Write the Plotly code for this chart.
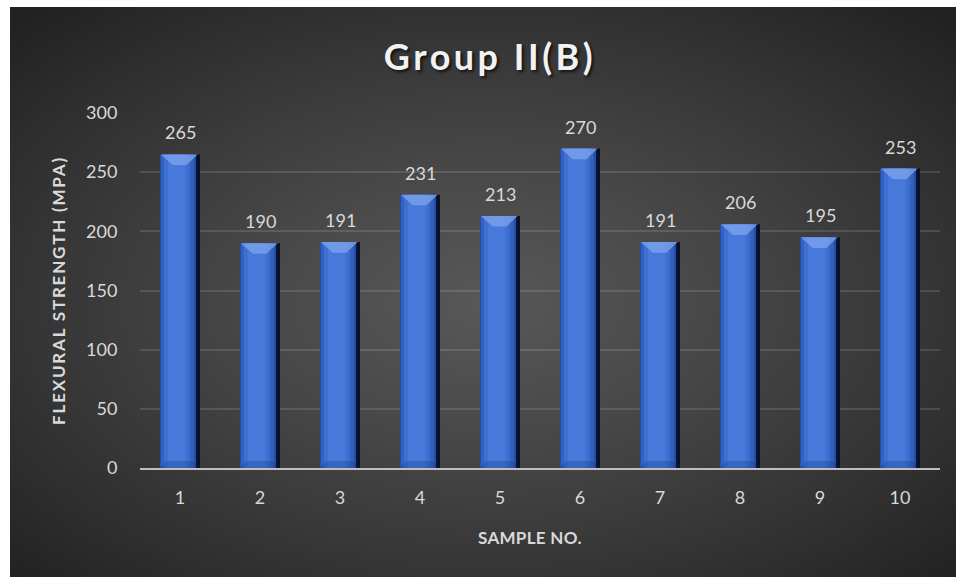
import base64
import struct
import zlib

import numpy as np
import plotly.graph_objects as go

# ---- data ----
samples = [1, 2, 3, 4, 5, 6, 7, 8, 9, 10]
strength = [265, 190, 191, 231, 213, 270, 191, 206, 195, 253]
y_ticks = [0, 50, 100, 150, 200, 250, 300]

W, H = 956, 577


def png_uri(rgb):
    """Encode an (h, w, 3) uint8 array as a PNG data URI."""
    h, w, _ = rgb.shape
    raw = b"".join(b"\x00" + rgb[r].tobytes() for r in range(h))

    def chunk(tag, data):
        c = struct.pack(">I", len(data)) + tag + data
        return c + struct.pack(">I", zlib.crc32(tag + data) & 0xFFFFFFFF)

    png = b"\x89PNG\r\n\x1a\n"
    png += chunk(b"IHDR", struct.pack(">IIBBBBB", w, h, 8, 2, 0, 0, 0))
    png += chunk(b"IDAT", zlib.compress(raw, 9))
    png += chunk(b"IEND", b"")
    return "data:image/png;base64," + base64.b64encode(png).decode()


# radial grey background of the chart area
gw, gh = 240, 144
yy, xx = np.mgrid[0:gh, 0:gw]
dx = (xx / (gw - 1) - 0.5) * 2
dy = (yy / (gh - 1) - 0.52) * 2
r = np.clip(np.sqrt(dx ** 2 + dy ** 2) / np.sqrt(2), 0, 1)
val = 88 - 54 * r ** 1.15
bg = np.repeat(val[:, :, None], 3, axis=2).astype(np.uint8)
bg_uri = png_uri(bg)

fig = go.Figure()

# layered bars give a rounded, shaded column look
layers = [
    (-0.25, 0.50, "#08122a"),
    (-0.25, 0.45, "#2550a8"),
    (-0.235, 0.405, "#3462c0"),
    (-0.20, 0.32, "#3f6fd0"),
    (-0.15, 0.22, "#4779da"),
]
for off, wdt, col in layers:
    fig.add_trace(go.Bar(
        x=samples, y=strength, offset=off, width=wdt,
        marker=dict(color=col, line=dict(width=0)),
        hoverinfo="skip", showlegend=False,
    ))

# top bevel face and bottom bevel on each column
bevel = 9
for xv, v in zip(samples, strength):
    fig.add_trace(go.Scatter(
        x=[xv - 0.24, xv + 0.22, xv + 0.08, xv - 0.09, xv - 0.24],
        y=[v, v, v - bevel, v - bevel, v],
        fill="toself", fillcolor="rgba(125,160,235,0.8)", mode="lines",
        line=dict(width=0, color="rgba(0,0,0,0)"),
        hoverinfo="skip", showlegend=False,
    ))
    fig.add_trace(go.Scatter(
        x=[xv - 0.25, xv + 0.25, xv + 0.16, xv - 0.18, xv - 0.25],
        y=[0, 0, 6, 6, 0],
        fill="toself", fillcolor="rgba(20,45,110,0.25)", mode="lines",
        line=dict(width=0, color="rgba(0,0,0,0)"),
        hoverinfo="skip", showlegend=False,
    ))

# value labels above the columns
for xv, v in zip(samples, strength):
    fig.add_annotation(
        x=xv, y=v, text=str(v), showarrow=False, yshift=22,
        yanchor="middle", xanchor="center",
        font=dict(family="Lato", size=18, color="#d9d9d9"),
    )

# x-axis title
fig.add_annotation(
    xref="paper", yref="paper", x=(530 - 140) / 800, y=-(537 - 468) / 355,
    text='<span style="letter-spacing:0.3px">SAMPLE NO.</span>',
    showarrow=False, xanchor="center", yanchor="middle",
    font=dict(family="Lato", size=17, color="#d9d9d9", weight="bold"),
)

fig.update_layout(
    width=W, height=H,
    paper_bgcolor="white",
    plot_bgcolor="rgba(0,0,0,0)",
    margin=dict(l=140, r=16, t=113, b=109),
    barmode="overlay",
    images=[dict(
        source=bg_uri, xref="paper", yref="paper",
        x=-130 / 800, y=1 + 106 / 355,
        sizex=946 / 800, sizey=570 / 355,
        xanchor="left", yanchor="top", sizing="stretch", layer="below",
    )],
    title=dict(
        text='<span style="letter-spacing:3.5px">Group II(B)</span>',
        x=490 / W, xanchor="center", y=1 - 57 / H, yanchor="middle",
        font=dict(family="Lato", size=36, color="#f2f2f2", weight="bold",
                  shadow="2px 2px 3px rgba(0,0,0,0.7)"),
    ),
    font=dict(family="Lato", color="#d9d9d9"),
)

fig.update_xaxes(
    range=[0.5, 10.5], tickvals=samples, ticktext=[str(s) for s in samples],
    showgrid=False, zeroline=False,
    showline=True, linecolor="#bfbfbf", linewidth=2,
    ticks="outside", ticklen=12, tickcolor="rgba(0,0,0,0)",
    tickfont=dict(family="Lato", size=18, color="#d9d9d9"),
)
fig.update_yaxes(
    range=[0, 300], tickvals=y_ticks,
    showgrid=True, gridcolor="rgba(255,255,255,0.12)", gridwidth=1.5,
    zeroline=False, showline=False,
    ticks="outside", ticklen=18, tickcolor="rgba(0,0,0,0)",
    tickfont=dict(family="Lato", size=18, color="#d9d9d9"),
    title=dict(text='<span style="letter-spacing:1.8px">FLEXURAL STRENGTH (MPA)</span>',
               standoff=16,
               font=dict(family="Lato", size=17, color="#d9d9d9", weight="bold")),
)

fig.write_html("out.html")
